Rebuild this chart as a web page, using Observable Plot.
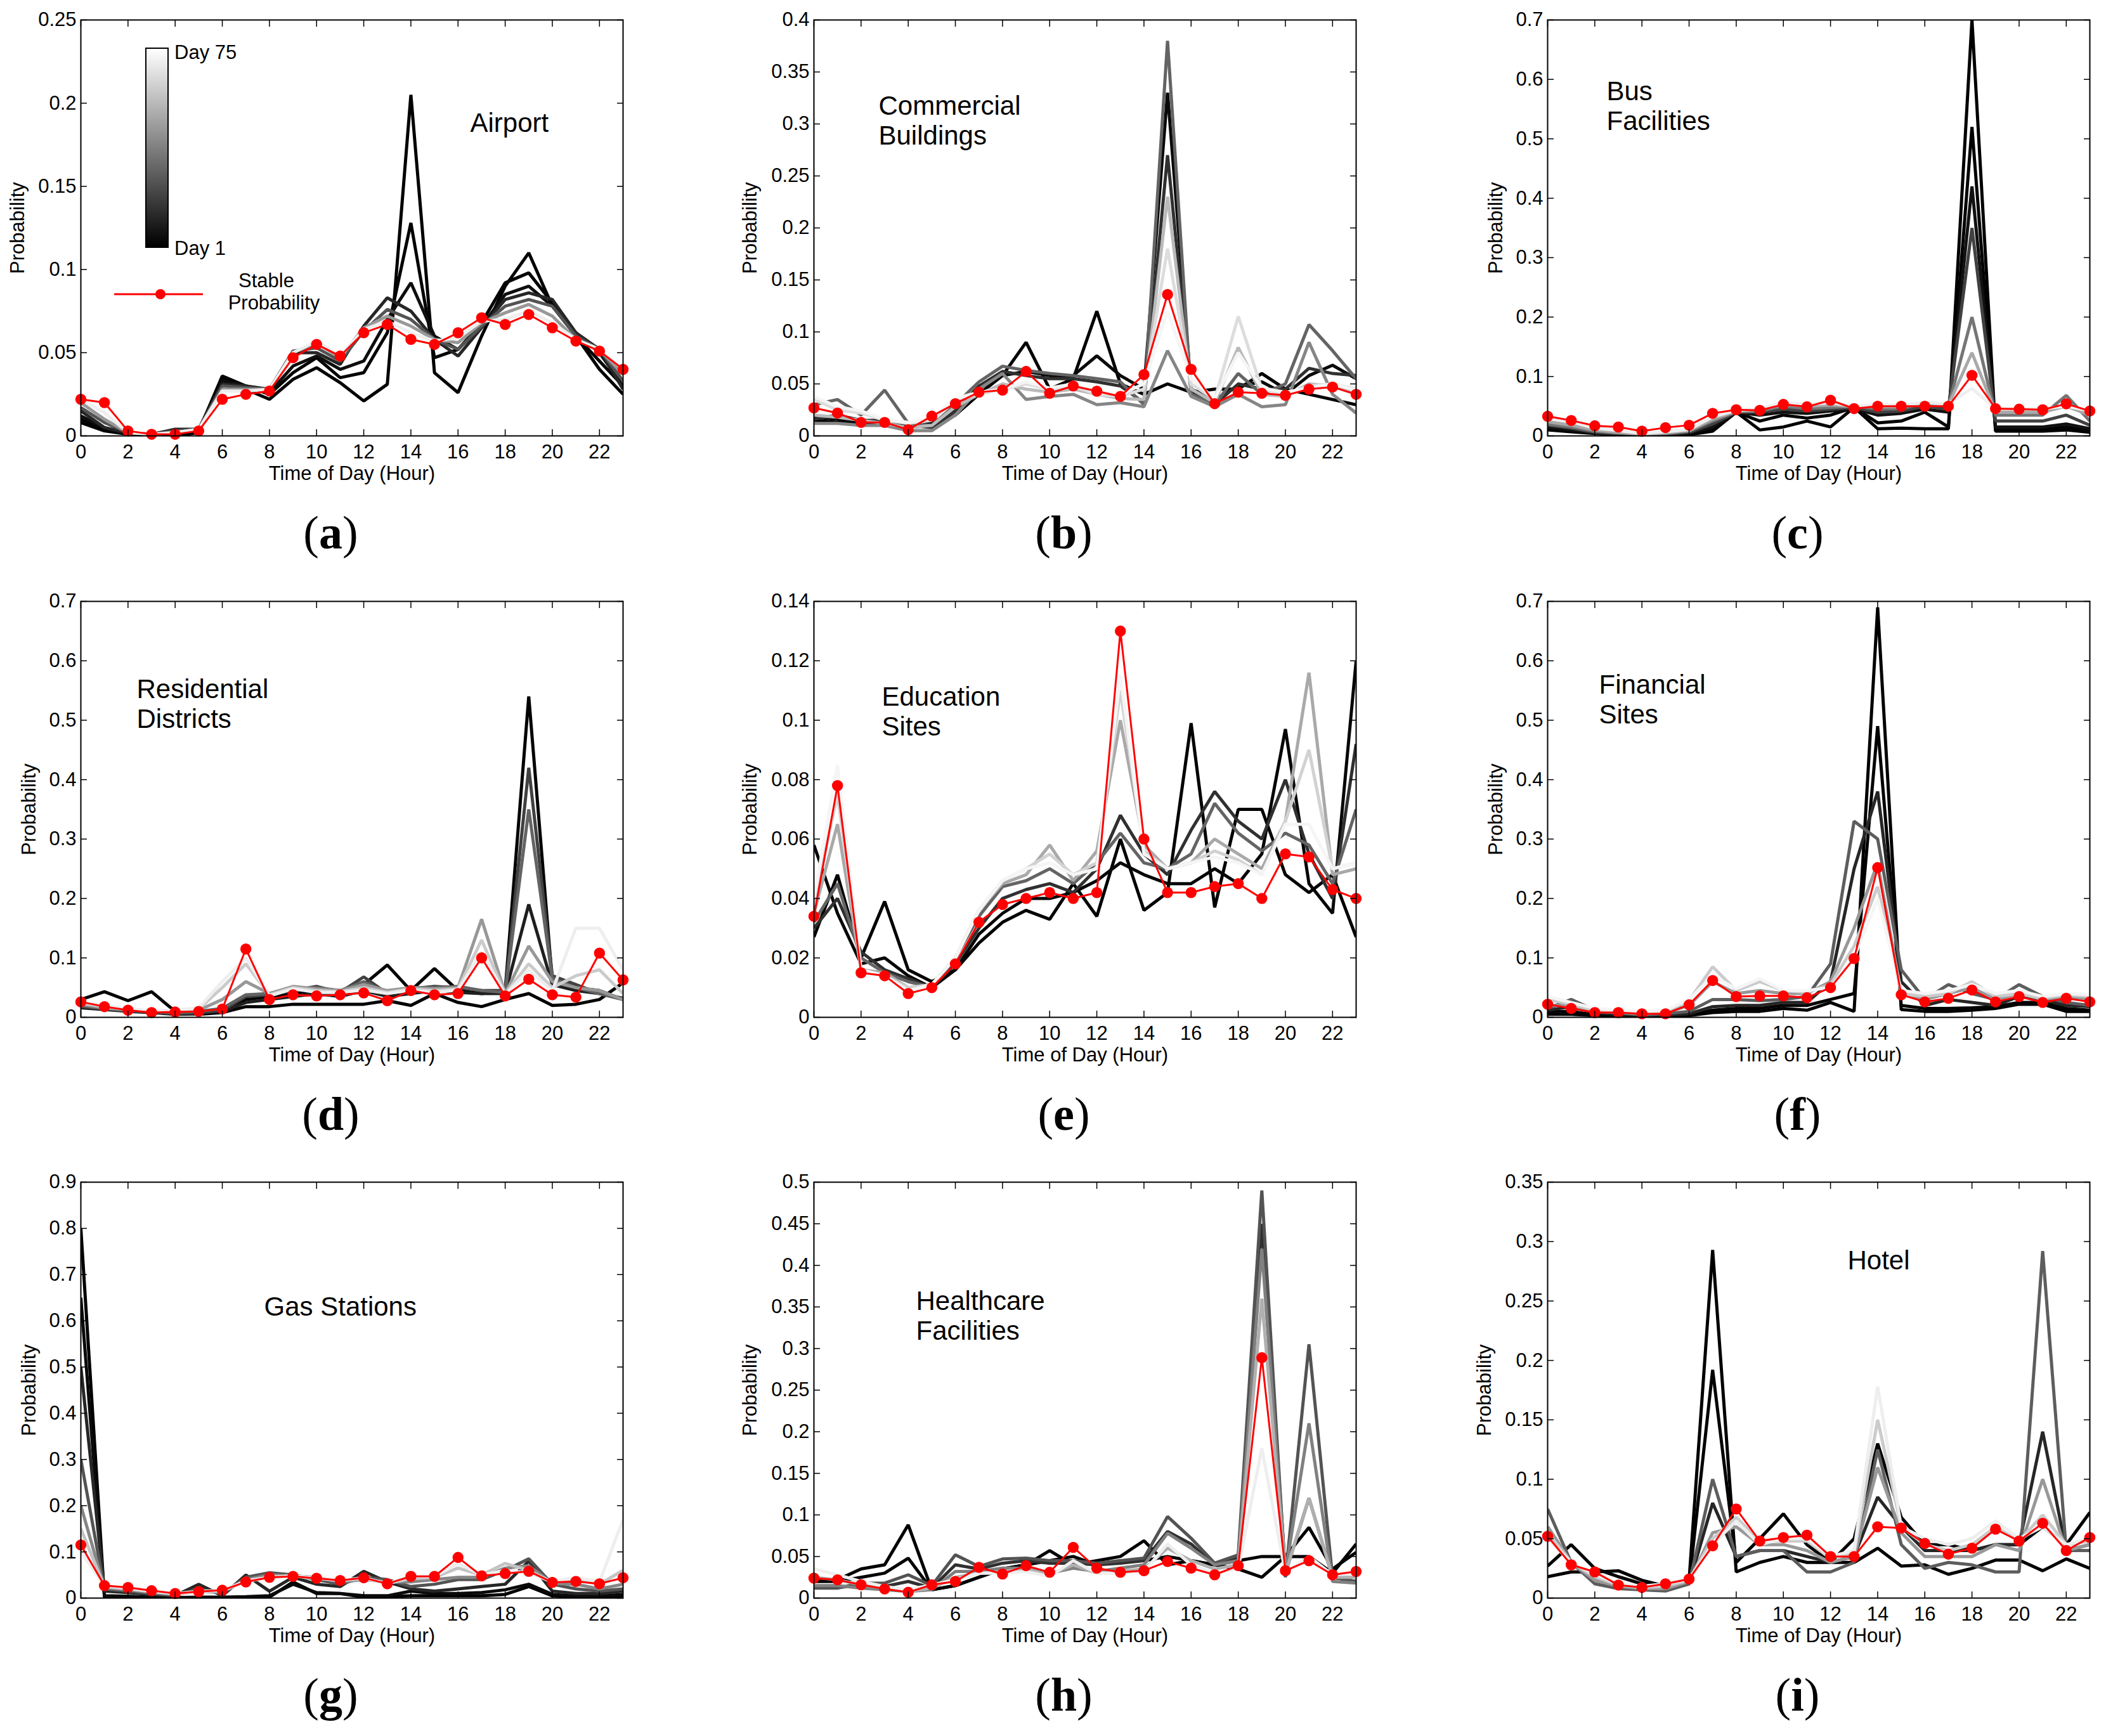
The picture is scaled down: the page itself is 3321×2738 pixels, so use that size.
<!DOCTYPE html>
<html><head><meta charset="utf-8">
<script src="https://cdn.jsdelivr.net/npm/d3@7"></script>
<script src="https://cdn.jsdelivr.net/npm/@observablehq/plot@0.6"></script>
<style>
body{margin:0;background:#fff;}
#page{position:relative;width:3321px;height:2738px;overflow:hidden;background:#fff;font-family:"Liberation Sans",Arial,sans-serif;}
.cell{position:absolute;}
.tag{position:absolute;font-family:"Liberation Serif","Times New Roman",serif;font-size:74px;line-height:1;transform:translate(-50%,-50%);white-space:nowrap;}
.tag b{font-weight:bold;}
.lg{position:absolute;font-size:31px;line-height:1;white-space:nowrap;color:#000;}
</style></head>
<body><div id="page"></div>
<script>
// ---------- data ----------
const hours = [0,1,2,3,4,5,6,7,8,9,10,11,12,13,14,15,16,17,18,19,20,21,22,23];
const xTicks = [0,2,4,6,8,10,12,14,16,18,20,22];

const airportTicks = [0,0.05,0.1,0.15,0.2,0.25];
const commercialTicks = [0,0.05,0.1,0.15,0.2,0.25,0.3,0.35,0.4];
const busTicks = [0,0.1,0.2,0.3,0.4,0.5,0.6,0.7];
const residentialTicks = [0,0.1,0.2,0.3,0.4,0.5,0.6,0.7];
const educationTicks = [0,0.02,0.04,0.06,0.08,0.1,0.12,0.14];
const financialTicks = [0,0.1,0.2,0.3,0.4,0.5,0.6,0.7];
const gasTicks = [0,0.1,0.2,0.3,0.4,0.5,0.6,0.7,0.8,0.9];
const healthTicks = [0,0.05,0.1,0.15,0.2,0.25,0.3,0.35,0.4,0.45,0.5];
const hotelTicks = [0,0.05,0.1,0.15,0.2,0.25,0.3,0.35];

// (a) Airport
const airportStable = [0.022,0.020,0.003,0.001,0.001,0.003,0.022,0.025,0.027,0.047,0.055,0.048,0.062,0.067,0.058,0.055,0.062,0.071,0.067,0.073,0.065,0.057,0.051,0.040];
const airportDays = [1,2,5,12,25,45,70];
const airportGray = [
 [0.008,0.003,0.001,0.000,0.000,0.002,0.035,0.028,0.022,0.034,0.041,0.032,0.021,0.031,0.205,0.038,0.026,0.060,0.090,0.110,0.078,0.060,0.040,0.025],
 [0.010,0.004,0.001,0.000,0.001,0.003,0.036,0.030,0.025,0.038,0.047,0.035,0.038,0.062,0.128,0.047,0.052,0.068,0.092,0.098,0.080,0.060,0.045,0.030],
 [0.012,0.005,0.001,0.001,0.002,0.004,0.033,0.030,0.026,0.042,0.048,0.040,0.045,0.070,0.092,0.060,0.052,0.066,0.085,0.090,0.078,0.062,0.050,0.030],
 [0.015,0.005,0.002,0.001,0.004,0.004,0.031,0.030,0.028,0.050,0.050,0.043,0.066,0.083,0.075,0.058,0.048,0.065,0.082,0.086,0.082,0.062,0.052,0.028],
 [0.017,0.008,0.002,0.001,0.003,0.004,0.030,0.029,0.028,0.051,0.053,0.045,0.063,0.076,0.070,0.058,0.052,0.066,0.078,0.082,0.078,0.060,0.052,0.033],
 [0.020,0.010,0.002,0.001,0.002,0.004,0.028,0.028,0.028,0.050,0.056,0.047,0.065,0.072,0.066,0.058,0.056,0.068,0.074,0.079,0.072,0.058,0.052,0.037],
 [0.022,0.014,0.002,0.001,0.002,0.004,0.027,0.027,0.028,0.050,0.057,0.048,0.064,0.069,0.062,0.057,0.059,0.069,0.070,0.075,0.068,0.058,0.052,0.040]
];

// (b) Commercial Buildings
const commercialStable = [0.027,0.022,0.013,0.013,0.006,0.019,0.031,0.042,0.044,0.062,0.041,0.048,0.043,0.038,0.059,0.136,0.064,0.031,0.042,0.041,0.039,0.045,0.047,0.040];
const commercialDays = [1,4,15,30,40,55,65,72];
const commercialGray = [
 [0.015,0.013,0.012,0.010,0.008,0.010,0.020,0.040,0.058,0.090,0.045,0.055,0.120,0.050,0.040,0.050,0.042,0.045,0.045,0.060,0.045,0.040,0.035,0.030],
 [0.018,0.016,0.012,0.012,0.010,0.012,0.025,0.045,0.058,0.062,0.058,0.058,0.077,0.058,0.045,0.330,0.045,0.035,0.048,0.052,0.040,0.058,0.068,0.055],
 [0.016,0.020,0.015,0.015,0.010,0.008,0.024,0.048,0.062,0.058,0.055,0.055,0.052,0.048,0.032,0.270,0.042,0.030,0.050,0.045,0.045,0.065,0.060,0.058],
 [0.030,0.035,0.020,0.044,0.012,0.010,0.030,0.052,0.067,0.063,0.060,0.058,0.055,0.052,0.030,0.380,0.040,0.030,0.060,0.040,0.050,0.107,0.082,0.055],
 [0.012,0.012,0.010,0.010,0.005,0.005,0.020,0.045,0.060,0.035,0.038,0.040,0.030,0.032,0.028,0.082,0.038,0.028,0.040,0.028,0.030,0.090,0.040,0.022],
 [0.020,0.018,0.015,0.012,0.008,0.010,0.028,0.040,0.050,0.045,0.042,0.045,0.040,0.036,0.035,0.230,0.045,0.032,0.085,0.040,0.038,0.050,0.048,0.040],
 [0.035,0.025,0.022,0.015,0.012,0.015,0.035,0.040,0.045,0.050,0.045,0.048,0.040,0.038,0.045,0.180,0.050,0.035,0.115,0.045,0.040,0.048,0.050,0.045],
 [0.038,0.028,0.024,0.016,0.013,0.017,0.036,0.042,0.045,0.052,0.046,0.050,0.042,0.040,0.050,0.120,0.055,0.036,0.080,0.046,0.042,0.046,0.050,0.044]
];

// (c) Bus Facilities
const busStable = [0.033,0.026,0.017,0.015,0.008,0.014,0.018,0.038,0.044,0.043,0.053,0.049,0.060,0.046,0.050,0.050,0.050,0.050,0.102,0.046,0.045,0.044,0.054,0.042];
const busDays = [1,2,6,20,35,50,70];
const busGray = [
 [0.010,0.007,0.004,0.002,0.001,0.001,0.002,0.008,0.040,0.010,0.015,0.025,0.015,0.048,0.012,0.013,0.012,0.012,0.700,0.008,0.008,0.008,0.010,0.006],
 [0.012,0.008,0.005,0.003,0.001,0.002,0.003,0.010,0.040,0.025,0.035,0.030,0.035,0.048,0.022,0.025,0.040,0.015,0.520,0.010,0.012,0.012,0.015,0.008],
 [0.015,0.010,0.005,0.003,0.002,0.003,0.005,0.015,0.040,0.035,0.040,0.038,0.042,0.046,0.035,0.038,0.045,0.040,0.420,0.015,0.015,0.015,0.020,0.012],
 [0.018,0.013,0.006,0.004,0.002,0.003,0.006,0.020,0.040,0.040,0.045,0.042,0.045,0.048,0.040,0.042,0.050,0.045,0.350,0.025,0.025,0.025,0.035,0.018],
 [0.020,0.015,0.008,0.005,0.003,0.004,0.008,0.025,0.041,0.042,0.050,0.046,0.048,0.050,0.045,0.046,0.055,0.050,0.200,0.035,0.035,0.035,0.068,0.025],
 [0.024,0.018,0.010,0.006,0.003,0.005,0.009,0.028,0.042,0.044,0.053,0.050,0.052,0.050,0.049,0.049,0.056,0.052,0.140,0.040,0.040,0.040,0.050,0.035],
 [0.030,0.024,0.013,0.009,0.004,0.007,0.011,0.032,0.043,0.046,0.056,0.053,0.056,0.050,0.052,0.052,0.056,0.054,0.080,0.046,0.046,0.046,0.050,0.042]
];

// (d) Residential Districts
const residentialStable = [0.026,0.018,0.012,0.008,0.009,0.010,0.014,0.115,0.030,0.038,0.036,0.038,0.041,0.028,0.045,0.038,0.040,0.100,0.036,0.064,0.038,0.034,0.108,0.063];
const residentialDays = [1,2,10,20,30,45,60,70];
const residentialGray = [
 [0.030,0.043,0.028,0.043,0.010,0.005,0.008,0.018,0.018,0.022,0.022,0.022,0.022,0.028,0.020,0.040,0.025,0.018,0.030,0.040,0.020,0.022,0.030,0.058],
 [0.020,0.015,0.012,0.010,0.005,0.006,0.010,0.030,0.035,0.040,0.045,0.040,0.055,0.088,0.045,0.082,0.045,0.040,0.045,0.540,0.060,0.050,0.045,0.030],
 [0.016,0.013,0.010,0.008,0.005,0.007,0.010,0.025,0.030,0.035,0.040,0.035,0.045,0.035,0.040,0.045,0.042,0.040,0.040,0.190,0.055,0.045,0.040,0.032],
 [0.018,0.014,0.011,0.009,0.006,0.008,0.012,0.035,0.038,0.045,0.052,0.042,0.068,0.040,0.048,0.052,0.050,0.045,0.045,0.420,0.070,0.055,0.040,0.030],
 [0.020,0.015,0.012,0.010,0.008,0.010,0.015,0.038,0.040,0.048,0.050,0.045,0.060,0.042,0.050,0.050,0.052,0.045,0.042,0.350,0.065,0.050,0.040,0.030],
 [0.022,0.016,0.013,0.011,0.010,0.012,0.030,0.060,0.040,0.052,0.048,0.045,0.055,0.045,0.050,0.048,0.050,0.165,0.040,0.120,0.060,0.050,0.045,0.030],
 [0.024,0.018,0.013,0.011,0.011,0.014,0.050,0.090,0.038,0.050,0.045,0.043,0.050,0.042,0.048,0.045,0.048,0.130,0.040,0.090,0.050,0.070,0.080,0.040],
 [0.026,0.020,0.014,0.011,0.012,0.016,0.060,0.100,0.036,0.048,0.042,0.042,0.046,0.040,0.046,0.042,0.046,0.110,0.038,0.080,0.045,0.150,0.150,0.080]
];

// (e) Education Sites
const educationStable = [0.034,0.078,0.015,0.014,0.008,0.010,0.018,0.032,0.038,0.040,0.042,0.040,0.042,0.130,0.060,0.042,0.042,0.044,0.045,0.040,0.055,0.054,0.043,0.040];
const educationDays = [1,3,15,30,50,62,72];
const educationGray = [
 [0.027,0.048,0.020,0.039,0.016,0.012,0.016,0.025,0.032,0.036,0.033,0.045,0.034,0.060,0.036,0.042,0.099,0.037,0.070,0.070,0.048,0.042,0.048,0.027],
 [0.058,0.035,0.018,0.020,0.014,0.010,0.016,0.028,0.035,0.040,0.040,0.042,0.046,0.052,0.048,0.045,0.045,0.050,0.045,0.055,0.097,0.045,0.035,0.120],
 [0.030,0.040,0.022,0.016,0.013,0.010,0.018,0.030,0.040,0.043,0.045,0.042,0.050,0.068,0.055,0.048,0.063,0.076,0.066,0.060,0.080,0.055,0.040,0.092],
 [0.032,0.045,0.020,0.015,0.012,0.010,0.020,0.034,0.044,0.046,0.050,0.045,0.052,0.062,0.052,0.050,0.055,0.072,0.062,0.056,0.062,0.058,0.045,0.070],
 [0.035,0.065,0.016,0.015,0.010,0.011,0.020,0.036,0.045,0.048,0.058,0.046,0.056,0.100,0.058,0.050,0.052,0.060,0.055,0.050,0.066,0.116,0.048,0.050],
 [0.038,0.075,0.016,0.014,0.010,0.011,0.020,0.036,0.046,0.050,0.055,0.048,0.052,0.110,0.056,0.050,0.052,0.056,0.053,0.048,0.066,0.090,0.050,0.052],
 [0.040,0.085,0.016,0.014,0.009,0.011,0.020,0.036,0.046,0.050,0.052,0.048,0.050,0.115,0.055,0.050,0.052,0.054,0.052,0.048,0.065,0.065,0.050,0.052]
];

// (f) Financial Sites
const financialStable = [0.022,0.015,0.008,0.008,0.006,0.006,0.021,0.062,0.035,0.036,0.036,0.033,0.050,0.099,0.252,0.038,0.026,0.032,0.046,0.026,0.035,0.025,0.032,0.026];
const financialDays = [1,2,12,28,45,60,72];
const financialGray = [
 [0.005,0.005,0.003,0.002,0.002,0.002,0.003,0.008,0.010,0.010,0.015,0.012,0.025,0.010,0.690,0.013,0.010,0.010,0.012,0.015,0.022,0.022,0.010,0.010],
 [0.010,0.010,0.004,0.003,0.002,0.003,0.004,0.012,0.015,0.015,0.020,0.020,0.030,0.040,0.490,0.020,0.015,0.015,0.016,0.018,0.025,0.025,0.015,0.012],
 [0.012,0.018,0.008,0.005,0.003,0.004,0.006,0.018,0.020,0.020,0.025,0.025,0.060,0.250,0.380,0.060,0.020,0.030,0.025,0.020,0.035,0.030,0.020,0.018],
 [0.015,0.030,0.012,0.008,0.004,0.006,0.010,0.030,0.030,0.028,0.030,0.035,0.090,0.330,0.300,0.080,0.030,0.055,0.040,0.030,0.055,0.035,0.025,0.020],
 [0.020,0.020,0.010,0.008,0.006,0.008,0.020,0.060,0.040,0.045,0.040,0.040,0.060,0.150,0.260,0.040,0.030,0.040,0.050,0.030,0.040,0.030,0.035,0.030],
 [0.030,0.022,0.012,0.010,0.008,0.010,0.028,0.085,0.045,0.060,0.045,0.042,0.055,0.120,0.220,0.040,0.035,0.040,0.060,0.035,0.040,0.032,0.038,0.035],
 [0.035,0.025,0.015,0.012,0.010,0.012,0.030,0.070,0.048,0.065,0.045,0.045,0.050,0.100,0.200,0.045,0.040,0.045,0.055,0.040,0.045,0.035,0.040,0.038]
];

// (g) Gas Stations
const gasStable = [0.115,0.027,0.023,0.016,0.010,0.014,0.017,0.035,0.045,0.047,0.043,0.038,0.044,0.031,0.047,0.047,0.088,0.048,0.053,0.058,0.034,0.036,0.031,0.044];
const gasDays = [1,4,12,25,40,58,70];
const gasGray = [
 [0.800,0.002,0.002,0.001,0.001,0.001,0.001,0.002,0.002,0.035,0.010,0.010,0.002,0.003,0.005,0.005,0.005,0.005,0.008,0.025,0.005,0.002,0.002,0.005],
 [0.650,0.005,0.004,0.002,0.001,0.002,0.002,0.003,0.005,0.030,0.012,0.010,0.005,0.005,0.015,0.010,0.010,0.012,0.018,0.030,0.008,0.004,0.004,0.008],
 [0.500,0.015,0.012,0.008,0.005,0.030,0.005,0.050,0.015,0.045,0.030,0.025,0.058,0.035,0.020,0.015,0.020,0.025,0.030,0.080,0.015,0.010,0.010,0.015],
 [0.300,0.020,0.015,0.010,0.006,0.020,0.010,0.045,0.055,0.050,0.040,0.030,0.045,0.040,0.025,0.030,0.040,0.040,0.060,0.085,0.030,0.020,0.015,0.020],
 [0.200,0.022,0.018,0.012,0.008,0.015,0.012,0.040,0.050,0.048,0.045,0.035,0.040,0.035,0.035,0.040,0.045,0.045,0.065,0.070,0.032,0.030,0.020,0.030],
 [0.150,0.025,0.020,0.014,0.009,0.014,0.015,0.038,0.045,0.048,0.044,0.038,0.042,0.032,0.042,0.045,0.065,0.050,0.075,0.060,0.034,0.040,0.030,0.060],
 [0.100,0.027,0.022,0.015,0.010,0.014,0.017,0.036,0.045,0.048,0.043,0.038,0.044,0.031,0.047,0.047,0.075,0.050,0.060,0.055,0.035,0.045,0.035,0.170]
];

// (h) Healthcare Facilities
const healthStable = [0.024,0.022,0.016,0.011,0.007,0.016,0.020,0.037,0.029,0.039,0.031,0.061,0.036,0.031,0.033,0.044,0.036,0.028,0.039,0.289,0.033,0.045,0.028,0.032];
const healthDays = [1,2,15,25,38,52,70];
const healthGray = [
 [0.020,0.022,0.035,0.040,0.088,0.010,0.015,0.025,0.035,0.040,0.057,0.040,0.045,0.050,0.069,0.040,0.045,0.040,0.035,0.025,0.050,0.050,0.030,0.065],
 [0.020,0.020,0.025,0.030,0.048,0.010,0.015,0.025,0.035,0.040,0.045,0.050,0.040,0.045,0.045,0.050,0.045,0.040,0.045,0.050,0.050,0.085,0.035,0.055],
 [0.014,0.013,0.015,0.014,0.020,0.012,0.040,0.035,0.042,0.045,0.042,0.042,0.040,0.042,0.045,0.080,0.065,0.040,0.048,0.450,0.030,0.120,0.025,0.020],
 [0.012,0.012,0.018,0.018,0.028,0.015,0.052,0.038,0.047,0.048,0.045,0.045,0.042,0.045,0.048,0.098,0.072,0.042,0.052,0.490,0.025,0.305,0.025,0.020],
 [0.015,0.015,0.012,0.010,0.008,0.010,0.032,0.032,0.036,0.036,0.030,0.036,0.032,0.036,0.040,0.078,0.060,0.040,0.045,0.420,0.030,0.210,0.020,0.018],
 [0.025,0.022,0.016,0.012,0.008,0.012,0.025,0.030,0.032,0.035,0.028,0.040,0.030,0.032,0.035,0.060,0.045,0.035,0.040,0.360,0.030,0.120,0.025,0.025],
 [0.035,0.028,0.020,0.014,0.010,0.016,0.022,0.030,0.030,0.032,0.026,0.045,0.030,0.030,0.032,0.065,0.040,0.030,0.036,0.180,0.030,0.050,0.028,0.030]
];

// (i) Hotel
const hotelStable = [0.052,0.028,0.022,0.011,0.009,0.012,0.016,0.044,0.075,0.048,0.051,0.053,0.035,0.035,0.060,0.059,0.046,0.037,0.042,0.058,0.048,0.063,0.040,0.051];
const hotelDays = [1,2,12,28,45,60,70];
const hotelGray = [
 [0.018,0.022,0.022,0.023,0.015,0.010,0.015,0.293,0.022,0.030,0.035,0.030,0.030,0.030,0.042,0.027,0.028,0.020,0.025,0.032,0.032,0.023,0.033,0.025],
 [0.027,0.045,0.025,0.018,0.012,0.010,0.012,0.192,0.030,0.050,0.071,0.045,0.030,0.050,0.130,0.068,0.045,0.045,0.040,0.045,0.045,0.060,0.045,0.072],
 [0.060,0.030,0.015,0.010,0.008,0.007,0.012,0.080,0.035,0.040,0.040,0.035,0.030,0.035,0.085,0.060,0.040,0.040,0.040,0.045,0.045,0.140,0.040,0.045],
 [0.075,0.030,0.012,0.008,0.007,0.006,0.012,0.100,0.035,0.040,0.040,0.022,0.022,0.030,0.125,0.045,0.025,0.030,0.028,0.022,0.022,0.292,0.040,0.040],
 [0.060,0.030,0.015,0.010,0.008,0.008,0.014,0.055,0.060,0.045,0.045,0.040,0.030,0.035,0.110,0.055,0.035,0.035,0.035,0.045,0.040,0.100,0.040,0.045],
 [0.055,0.030,0.018,0.011,0.009,0.010,0.015,0.050,0.068,0.048,0.048,0.048,0.034,0.038,0.150,0.060,0.045,0.040,0.045,0.060,0.048,0.070,0.045,0.048],
 [0.050,0.030,0.020,0.012,0.010,0.012,0.016,0.045,0.065,0.045,0.050,0.050,0.035,0.040,0.178,0.060,0.050,0.045,0.050,0.065,0.050,0.060,0.045,0.050]
];

// ---------- layout ----------
const panels = [
 {tag:"a", name:"Airport", ticks:airportTicks, stable:airportStable, days:airportDays, gray:airportGray, ndx:614, ndy:143, ylab:-99},
 {tag:"b", name:"Commercial\nBuildings", ticks:commercialTicks, stable:commercialStable, days:commercialDays, gray:commercialGray, ndx:102, ndy:116, ylab:-100},
 {tag:"c", name:"Bus\nFacilities", ticks:busTicks, stable:busStable, days:busDays, gray:busGray, ndx:93, ndy:93, ylab:-81},
 {tag:"d", name:"Residential\nDistricts", ticks:residentialTicks, stable:residentialStable, days:residentialDays, gray:residentialGray, ndx:88, ndy:119, ylab:-81},
 {tag:"e", name:"Education\nSites", ticks:educationTicks, stable:educationStable, days:educationDays, gray:educationGray, ndx:107, ndy:131, ylab:-100},
 {tag:"f", name:"Financial\nSites", ticks:financialTicks, stable:financialStable, days:financialDays, gray:financialGray, ndx:81, ndy:112, ylab:-81},
 {tag:"g", name:"Gas Stations", ticks:gasTicks, stable:gasStable, days:gasDays, gray:gasGray, ndx:289, ndy:177, ylab:-81},
 {tag:"h", name:"Healthcare\nFacilities", ticks:healthTicks, stable:healthStable, days:healthDays, gray:healthGray, ndx:161, ndy:168, ylab:-100},
 {tag:"i", name:"Hotel", ticks:hotelTicks, stable:hotelStable, days:hotelDays, gray:hotelGray, ndx:473, ndy:104, ylab:-99}
];

const frameLefts = [127, 1283, 2440];
const frameTops = [31, 948, 1864];
const MT = 31, MB = 100, ML = 127, MR = 25, W = 1007, FH = 656;
const fmt = d => String(+d.toFixed(4));
const page = document.getElementById("page");

panels.forEach((p, i) => {
  const r = Math.floor(i / 3), c = i % 3;
  const grayRows = [];
  p.gray.forEach((row, k) => row.forEach((v, h) => grayRows.push({hour: hours[h], p: v, day: p.days[k]})));
  const stableRows = p.stable.map((v, h) => ({hour: hours[h], p: v}));
  const yMax = p.ticks[p.ticks.length - 1];
  const chart = Plot.plot({
    width: W, height: MT + FH + MB,
    marginLeft: ML, marginRight: MR, marginTop: MT, marginBottom: MB,
    style: {fontFamily: '"Liberation Sans", Arial, sans-serif', fontSize: "31px", color: "#000", background: "#fff", overflow: "visible"},
    x: {domain: [0, 23]},
    y: {domain: [0, yMax]},
    color: {type: "linear", domain: [1, 75], range: ["#000000", "#ffffff"]},
    marks: [
      Plot.line(grayRows, {x: "hour", y: "p", z: "day", stroke: "day", strokeWidth: 5, strokeLinejoin: "miter", strokeLinecap: "butt", clip: true}),
      Plot.line(stableRows, {x: "hour", y: "p", stroke: "#ff0000", strokeWidth: 3}),
      Plot.dot(stableRows, {x: "hour", y: "p", r: 8, fill: "#ff0000", stroke: "#ff0000"}),
      Plot.frame({stroke: "#000", strokeWidth: 2}),
      Plot.axisX({anchor: "bottom", ticks: xTicks, tickSize: 0, tickPadding: 13, tickFormat: fmt, label: null, fontSize: 31}),
      Plot.axisX({anchor: "bottom", ticks: xTicks, tickSize: -10, tickFormat: () => "", label: null, strokeWidth: 1.5}),
      Plot.axisX({anchor: "top", ticks: xTicks, tickSize: -10, tickFormat: () => "", label: null, strokeWidth: 1.5}),
      Plot.axisY({anchor: "left", ticks: p.ticks, tickSize: 0, tickPadding: 7, tickFormat: fmt, label: null, fontSize: 31}),
      Plot.axisY({anchor: "left", ticks: p.ticks, tickSize: -10, tickFormat: () => "", label: null, strokeWidth: 1.5}),
      Plot.axisY({anchor: "right", ticks: p.ticks, tickSize: -10, tickFormat: () => "", label: null, strokeWidth: 1.5}),
      Plot.text(["Time of Day (Hour)"], {frameAnchor: "bottom", dy: 60, lineAnchor: "middle", textAnchor: "middle", text: d => d, fontSize: 31, fill: "#000"}),
      Plot.text(["Probability"], {frameAnchor: "left", dx: p.ylab, rotate: -90, lineAnchor: "middle", textAnchor: "middle", text: d => d, fontSize: 31, fill: "#000"}),
      Plot.text([p.name], {frameAnchor: "top-left", dx: p.ndx, dy: p.ndy, lineAnchor: "top", textAnchor: "start", text: d => d, fontSize: 42, lineHeight: 1.12, fill: "#000"})
    ]
  });
  const cell = document.createElement("div");
  cell.className = "cell";
  cell.style.left = (frameLefts[c] - ML) + "px";
  cell.style.top = (frameTops[r] - MT) + "px";
  cell.appendChild(chart);
  page.appendChild(cell);

  const tag = document.createElement("div");
  tag.className = "tag";
  tag.innerHTML = "(<b>" + p.tag + "</b>)";
  tag.style.left = (frameLefts[c] + 855 / 2 - 33) + "px";
  tag.style.top = (frameTops[r] + FH + 153) + "px";
  page.appendChild(tag);
});

// ---------- legend in panel (a) ----------
const bar = document.createElement("div");
bar.style.cssText = "position:absolute;left:229px;top:75px;width:33px;height:312px;border:2px solid #000;background:linear-gradient(to top,#000,#fff);";
page.appendChild(bar);
function lg(text, x, y, center) {
  const d = document.createElement("div");
  d.className = "lg";
  d.textContent = text;
  d.style.left = x + "px"; d.style.top = y + "px";
  d.style.transform = center ? "translate(-50%,-50%)" : "translateY(-50%)";
  page.appendChild(d);
}
lg("Day 75", 275, 82, false);
lg("Day 1", 275, 391, false);
lg("Stable", 420, 442, true);
lg("Probability", 432, 477, true);
const ns = "http://www.w3.org/2000/svg";
const lsvg = document.createElementNS(ns, "svg");
lsvg.setAttribute("width", 170); lsvg.setAttribute("height", 40);
lsvg.style.cssText = "position:absolute;left:170px;top:444px;";
const ln = document.createElementNS(ns, "line");
ln.setAttribute("x1", 10); ln.setAttribute("x2", 150); ln.setAttribute("y1", 20); ln.setAttribute("y2", 20);
ln.setAttribute("stroke", "#ff0000"); ln.setAttribute("stroke-width", 3);
const cc = document.createElementNS(ns, "circle");
cc.setAttribute("cx", 83); cc.setAttribute("cy", 20); cc.setAttribute("r", 8); cc.setAttribute("fill", "#ff0000");
lsvg.appendChild(ln); lsvg.appendChild(cc);
page.appendChild(lsvg);
</script>
</body></html>
